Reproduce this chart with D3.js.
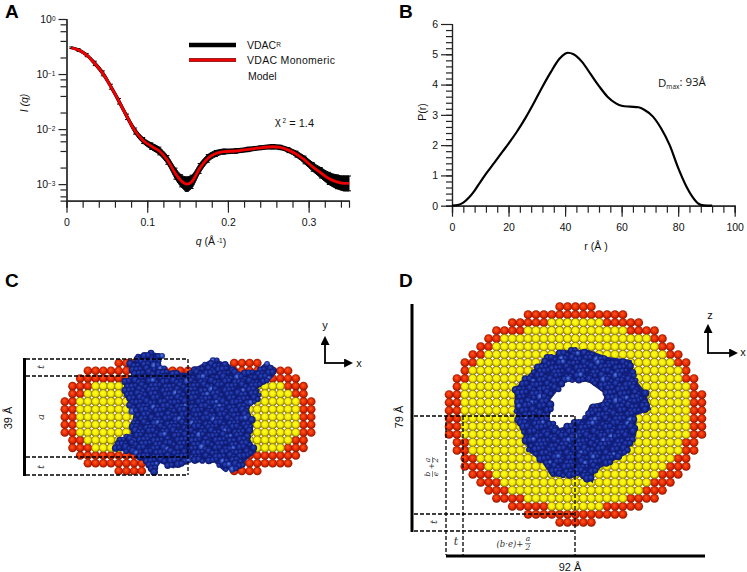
<!DOCTYPE html>
<html>
<head>
<meta charset="utf-8">
<script src="https://cdn.jsdelivr.net/npm/d3@7"></script>
<style>
html, body { margin: 0; padding: 0; background: #fff; }
svg { display: block; }
text { font-family: "Liberation Sans", Arial, sans-serif; fill: #111; }
</style>
</head>
<body>
<svg class="fig" width="747" height="572"></svg>
<script>
// panel A
var scatterQ = [0.006, 0.015, 0.025, 0.035, 0.045, 0.055, 0.065, 0.075, 0.085, 0.095, 0.105, 0.115, 0.125, 0.135, 0.142, 0.149, 0.155, 0.165, 0.175, 0.185, 0.195, 0.21, 0.225, 0.24, 0.255, 0.265, 0.275, 0.285, 0.295, 0.305, 0.315, 0.325, 0.335, 0.345, 0.35];
var scatterI = [0.30, 0.273, 0.221, 0.156, 0.103, 0.059, 0.032, 0.0167, 0.0092, 0.0062, 0.0049, 0.0040, 0.00275, 0.00155, 0.00115, 0.00100, 0.0011, 0.00193, 0.00293, 0.0036, 0.0039, 0.0040, 0.00427, 0.00457, 0.00478, 0.00464, 0.00415, 0.0035, 0.00275, 0.00206, 0.00161, 0.00127, 0.0011, 0.00103, 0.00103];
// half height of the black error band, in decades
var scatterErr = [0.015, 0.025, 0.03, 0.04, 0.045, 0.045, 0.05, 0.05, 0.055, 0.055, 0.06, 0.07, 0.08, 0.1, 0.11, 0.13, 0.12, 0.09, 0.07, 0.055, 0.045, 0.04, 0.04, 0.035, 0.04, 0.04, 0.045, 0.055, 0.07, 0.08, 0.095, 0.11, 0.125, 0.135, 0.135];

// panel B
var distR = [0, 2, 4, 6, 8, 10, 12, 15, 18, 20, 23, 26, 29, 32, 35, 38, 40, 41, 43, 46, 49, 52, 55, 58, 60, 63, 66, 68, 71, 74, 77, 80, 83, 85, 87, 89, 92];
var distP = [0, 0.02, 0.1, 0.27, 0.5, 0.78, 1.05, 1.42, 1.8, 2.05, 2.45, 2.9, 3.4, 3.93, 4.42, 4.85, 5.02, 5.05, 5.0, 4.75, 4.35, 3.95, 3.6, 3.38, 3.3, 3.27, 3.25, 3.17, 2.95, 2.55, 2.0, 1.25, 0.62, 0.3, 0.08, 0.01, 0];

var xTicksA = [0, 0.1, 0.2, 0.3];
var yTicksA = [1, 0.1, 0.01, 0.001];
var yExpA = ["0", "\u22121", "\u22122", "\u22123"];

// beads per row, half width counted from the centre column
var sideRed = [9, 13, 14, 15, 15, 16, 16, 16, 16, 16, 15, 15, 14, 13, 9];
var sideGap = [6, 0, 0, 0, 0, 0, 0, 0, 0, 0, 0, 0, 0, 6, 6];
var sideYellow = [-1, -1, -1, 12, 13, 14, 14, 14, 14, 14, 13, 12, -1, -1, -1];
var topRed = [2, 6, 8, 10, 11, 12, 13, 14, 14, 15, 15, 16, 16, 16, 16, 16, 16, 15, 15, 14, 14, 13, 12, 11, 10, 8, 6, 2];
var topYellow = [-1, -1, 3, 6, 9, 10, 11, 12, 13, 13, 14, 14, 14, 14, 14, 14, 14, 13, 13, 12, 11, 10, 9, 8, 6, 3, -1, -1];

// protein outlines in bead units (col, row from centre)
var sideProtein = [[-6.7,-8.1],[-4.5,-8.4],[-3.2,-8.1],[-3.6,-6.8],[-2.3,-5.9],[-0.2,-5.7],[1.6,-6.8],[3.3,-7.6],[5.5,-6.8],[6.3,-5.7],[8.9,-6.1],[10.2,-7.2],[11.3,-6.3],[11.1,-5.2],[9.1,-3.7],[9.4,-2.4],[7.8,-1.1],[8.5,0.6],[7.8,2.3],[8.9,4.5],[7.6,5.6],[6.8,6.7],[4.6,7.0],[3.3,5.8],[2,5.8],[-0.2,5.8],[-1.9,6.7],[-3.6,6.0],[-4.5,7.3],[-5.8,5.8],[-7.1,4.7],[-9.5,4.3],[-9.3,3.0],[-7.5,2.3],[-7.1,-0.3],[-8.2,-2.9],[-8.3,-4.6],[-7.3,-5.2],[-7.7,-6.8],[-6.9,-7.4]];
var topProtein = [[-7.7,-3.3],[-6,-4.9],[-3.9,-7],[-0.9,-8.1],[1.6,-8.1],[4.1,-7.2],[7.1,-6.8],[7.5,-4.5],[8.8,-2.9],[9.6,-0.6],[7.7,0.1],[7.7,2.6],[6.2,5.1],[2.4,7.1],[2.2,8.6],[1.2,7.8],[-0.9,7.6],[-3,7.8],[-4.3,5.9],[-6,4.6],[-6.6,2.6],[-7.7,-0.4]];
var topHole = [[-3.2,-1.8],[-1.4,-4.1],[1.6,-4.1],[3.7,-2.6],[3.5,-1.6],[1.8,-1.2],[1.2,0.3],[-0.7,1.3],[-2,1.7],[-3.5,0.5],[-2.8,-0.8]];

var svg = d3.select(".fig");
var defs = svg.append("defs");

function ballGradient(id, hi, mid, edge) {
  var g = defs.append("radialGradient").attr("id", id)
    .attr("cx", 0.5).attr("cy", 0.5).attr("r", 0.52).attr("fx", 0.42).attr("fy", 0.36);
  g.append("stop").attr("offset", "0%").attr("stop-color", hi);
  g.append("stop").attr("offset", "60%").attr("stop-color", mid);
  g.append("stop").attr("offset", "100%").attr("stop-color", edge);
}
ballGradient("ballRed", "#ff5a20", "#e82800", "#7c1400");
ballGradient("ballYellow", "#ffff30", "#f6ec00", "#7d7400");
ballGradient("ballBlue", "#2c48bc", "#152690", "#0b1660");
ballGradient("ballBlueHi", "#6080e8", "#2440b0", "#101f74");

defs.append("marker").attr("id", "arrowHead").attr("viewBox", "0 0 10 10")
  .attr("refX", 1).attr("refY", 5).attr("markerWidth", 9).attr("markerHeight", 9)
  .attr("markerUnits", "userSpaceOnUse").attr("orient", "auto")
  .append("path").attr("d", "M0,0L10,5L0,10Z").attr("fill", "#000");

function panelLetter(s, x, y) {
  svg.append("text").attr("x", x).attr("y", y).text(s)
    .style("font-size", "19px").style("font-weight", "bold").style("fill", "#000");
}
panelLetter("A", 5, 18);
panelLetter("B", 399, 18);
panelLetter("C", 5, 287);
panelLetter("D", 399, 287);

function styleAxis(g) {
  g.selectAll("path, line").attr("stroke", "#222").attr("stroke-width", 1.2);
  g.selectAll("text").style("font-size", "10.5px").style("fill", "#111");
}

// ---- A
var xA = d3.scaleLinear().domain([0, 0.35]).range([66.5, 349]);
var yA = d3.scaleLog().domain([0.0005, 1]).range([200.7, 19]);

var gA = svg.append("g");
var minorX = d3.range(0, 18).map(function(i) { return i * 0.02; });
var minorY = [];
yTicksA.forEach(function(d) {
  [0.8, 0.6, 0.4, 0.2].forEach(function(m) { if (d * m > 0.0005) minorY.push(d * m); });
});

gA.append("g").attr("transform", "translate(0,200.7)")
  .call(d3.axisBottom(xA).tickValues(minorX).tickSize(7).tickFormat(""))
  .call(styleAxis);
gA.append("g").attr("transform", "translate(0,200.7)")
  .call(d3.axisBottom(xA).tickValues(xTicksA).tickSize(12).tickSizeOuter(0).tickPadding(6).tickFormat(function(d) { return d === 0 ? "0" : d3.format(".1f")(d); }))
  .call(styleAxis);
gA.append("g").attr("transform", "translate(66.5,0)")
  .call(d3.axisLeft(yA).tickValues(minorY).tickSize(6).tickFormat(""))
  .call(styleAxis);
var yAxisA = gA.append("g").attr("transform", "translate(66.5,0)")
  .call(d3.axisLeft(yA).tickValues(yTicksA).tickSize(8).tickSizeOuter(0).tickPadding(7).tickFormat(""))
  .call(styleAxis);
yAxisA.selectAll(".tick").append("text")
  .attr("x", -11).attr("dy", "0.35em").attr("text-anchor", "end")
  .style("font-size", "10.5px")
  .each(function(d, i) {
    var t = d3.select(this);
    t.append("tspan").text("10");
    t.append("tspan").attr("dy", "-0.35em").style("font-size", "6.5px").text(yExpA[i]);
  });

var pointsA = scatterQ.map(function(q, i) {
  return { q: q, i: scatterI[i], hi: scatterI[i] * Math.pow(10, scatterErr[i]), lo: scatterI[i] / Math.pow(10, scatterErr[i]) };
});

gA.append("path").datum(pointsA)
  .attr("fill", "#000").attr("stroke", "#000").attr("stroke-width", 1)
  .attr("d", d3.area().x(function(d) { return xA(d.q); }).y0(function(d) { return yA(d.lo); }).y1(function(d) { return yA(d.hi); }).curve(d3.curveMonotoneX));

gA.selectAll(".errbar").data(pointsA).enter().append("path")
  .attr("class", "errbar").attr("stroke", "#000").attr("stroke-width", 1).attr("fill", "none")
  .attr("d", function(d) {
    var x = xA(d.q);
    return "M" + (x - 2) + "," + yA(d.hi) + "H" + (x + 2) + "M" + (x - 2) + "," + yA(d.lo) + "H" + (x + 2);
  });

gA.append("path").datum(pointsA)
  .attr("fill", "none").attr("stroke", "#f00000").attr("stroke-width", 2.8)
  .attr("d", d3.line().x(function(d) { return xA(d.q); }).y(function(d) { return yA(d.i); }).curve(d3.curveMonotoneX));

gA.append("line").attr("x1", 189).attr("x2", 236).attr("y1", 45).attr("y2", 45).attr("stroke", "#000").attr("stroke-width", 4.5);
gA.append("line").attr("x1", 189).attr("x2", 236).attr("y1", 60).attr("y2", 60).attr("stroke", "#000").attr("stroke-width", 3.6);
gA.append("line").attr("x1", 189).attr("x2", 236).attr("y1", 60).attr("y2", 60).attr("stroke", "#f00000").attr("stroke-width", 2.8);

var legendText = gA.append("text").attr("x", 247).attr("y", 49).style("font-size", "10.5px");
legendText.append("tspan").text("VDAC");
legendText.append("tspan").attr("dy", "-0.35em").style("font-size", "6.5px").text("R");
gA.append("text").attr("x", 247).attr("y", 64).style("font-size", "10.5px").style("letter-spacing", "0.3px").text("VDAC Monomeric");
gA.append("text").attr("x", 248).attr("y", 80).style("font-size", "10.5px").text("Model");

var chi = gA.append("text").attr("x", 275).attr("y", 125).style("font-size", "11px");
chi.append("tspan").text("\u03C7");
chi.append("tspan").attr("dy", "-0.35em").style("font-size", "6.5px").text(" 2");
chi.append("tspan").attr("dy", "0.35em").text(" = 1.4");

var yLabA = gA.append("text").attr("transform", "translate(28,103) rotate(-90)").attr("text-anchor", "middle").style("font-size", "10.5px");
yLabA.append("tspan").style("font-style", "italic").text("I (q)");

var xLabA = gA.append("text").attr("x", 211).attr("y", 245).attr("text-anchor", "middle").style("font-size", "10.5px");
xLabA.append("tspan").style("font-style", "italic").text("q");
xLabA.append("tspan").text(" (\u00C5");
xLabA.append("tspan").attr("dy", "-0.35em").style("font-size", "6.5px").text(" -1");
xLabA.append("tspan").attr("dy", "0.35em").text(")");

// ---- B
var xB = d3.scaleLinear().domain([0, 100]).range([452, 734.7]);
var yB = d3.scaleLinear().domain([0, 6]).range([205.7, 24]);
var gB = svg.append("g");

gB.append("g").attr("transform", "translate(0,205.7)")
  .call(d3.axisBottom(xB).tickValues(d3.range(0, 101, 4)).tickSize(7).tickFormat(""))
  .call(styleAxis);
gB.append("g").attr("transform", "translate(0,205.7)")
  .call(d3.axisBottom(xB).tickValues(d3.range(0, 101, 20)).tickSize(11).tickSizeOuter(0).tickPadding(7))
  .call(styleAxis);
gB.append("g").attr("transform", "translate(452,0)")
  .call(d3.axisLeft(yB).tickValues(d3.range(0, 30).map(function(i) { return i * 0.2; })).tickSize(6).tickFormat(""))
  .call(styleAxis);
gB.append("g").attr("transform", "translate(452,0)")
  .call(d3.axisLeft(yB).tickValues(d3.range(0, 7)).tickSize(11).tickSizeOuter(0).tickPadding(3).tickFormat(d3.format("d")))
  .call(styleAxis);

gB.append("path").datum(distR)
  .attr("fill", "none").attr("stroke", "#000").attr("stroke-width", 2.2)
  .attr("d", d3.line().x(function(d) { return xB(d); }).y(function(d, i) { return yB(distP[i]); }).curve(d3.curveMonotoneX));

gB.append("text").attr("transform", "translate(426,112) rotate(-90)").attr("text-anchor", "middle").style("font-size", "10.5px").text("P(r)");
gB.append("text").attr("x", 596).attr("y", 250).attr("text-anchor", "middle").style("font-size", "10.5px").text("r (\u00C5 )");

var dmax = gB.append("text").attr("x", 658).attr("y", 87).style("font-family", "'Open Sans', sans-serif").style("font-size", "11.5px");
dmax.append("tspan").text("D");
dmax.append("tspan").attr("dy", "0.3em").style("font-size", "6.5px").text("max");
dmax.append("tspan").attr("dy", "-0.3em").text(": 93\u00C5");

// ---- bead models
function rowBeads(halfWidths, gaps) {
  var out = [];
  halfWidths.forEach(function(n, row) {
    if (n < 0) return;
    d3.range(-n, n + 1).forEach(function(col) {
      if (gaps && Math.abs(col) < gaps[row]) return;
      out.push({ col: col, row: row });
    });
  });
  return out;
}

function drawBeads(g, beads, x, y, r, fill) {
  g.selectAll(null).data(beads).enter().append("circle")
    .attr("cx", function(d) { return x(d.col); })
    .attr("cy", function(d) { return y(d.row); })
    .attr("r", r)
    .attr("fill", "url(#" + fill + ")");
}

// surface texture: a packed lattice with a golden-ratio wobble, kept inside the outline
function drawProtein(g, outline, hole, x, y) {
  var path = d3.line().x(function(d) { return x(d[0]); }).y(function(d) { return y(d[1]); }).curve(d3.curveLinearClosed);
  g.append("path").attr("d", path(outline) + (hole ? path(hole) : "")).attr("fill", "#122286").attr("fill-rule", "evenodd");

  var ext = d3.extent(outline, function(d) { return d[0]; });
  var extY = d3.extent(outline, function(d) { return d[1]; });
  var step = 0.62, k = 0, beads = [];
  for (var v = extY[0]; v <= extY[1]; v += step * 0.87) {
    k++;
    for (var u = ext[0] + (k % 2) * step / 2; u <= ext[1]; u += step) {
      var n = beads.length + 1;
      var a = (n * 0.618034) % 1, b = (n * 0.754878) % 1;
      var pu = u + (a - 0.5) * 0.35, pv = v + (b - 0.5) * 0.35;
      if (!d3.polygonContains(outline, [pu, pv])) continue;
      if (hole && d3.polygonContains(hole, [pu, pv])) continue;
      beads.push({ u: pu, v: pv, r: 2.2 + 1.9 * a, hi: ((n * 0.569840) % 1) > 0.94 });
    }
  }
  g.selectAll(null).data(beads).enter().append("circle")
    .attr("cx", function(d) { return x(d.u); })
    .attr("cy", function(d) { return y(d.v); })
    .attr("r", function(d) { return d.r; })
    .attr("fill", function(d) { return d.hi ? "url(#ballBlueHi)" : "url(#ballBlue)"; });
}

function dashed(g, x1, y1, x2, y2) {
  g.append("line").attr("x1", x1).attr("y1", y1).attr("x2", x2).attr("y2", y2)
    .attr("stroke", "#000").attr("stroke-width", 1.3).attr("stroke-dasharray", "4,2");
}
function thick(g, x1, y1, x2, y2) {
  g.append("line").attr("x1", x1).attr("y1", y1).attr("x2", x2).attr("y2", y2)
    .attr("stroke", "#000").attr("stroke-width", 3);
}
function gizmo(g, cx, cy, up, right, upLabel, upX, upY, rightX, rightY) {
  g.append("path").attr("d", "M" + cx + "," + cy + "V" + (up + 8)).attr("fill", "none").attr("stroke", "#000").attr("stroke-width", 1.8).attr("marker-end", "url(#arrowHead)");
  g.append("path").attr("d", "M" + (cx - 1) + "," + cy + "H" + (right - 8)).attr("fill", "none").attr("stroke", "#000").attr("stroke-width", 1.8).attr("marker-end", "url(#arrowHead)");
  g.append("text").attr("x", upX).attr("y", upY).attr("text-anchor", "middle").style("font-size", "11px").text(upLabel);
  g.append("text").attr("x", rightX).attr("y", rightY).attr("text-anchor", "middle").style("font-size", "11px").text("x");
}
function mathText(g, x, y, s, size, rotate) {
  return g.append("text")
    .attr("transform", "translate(" + x + "," + y + ")" + (rotate ? " rotate(-90)" : ""))
    .attr("text-anchor", "middle")
    .style("font-family", "'DejaVu Serif', serif").style("font-style", "italic")
    .style("font-size", size + "px").style("fill", "#333").text(s);
}

// ---- C
var gC = svg.append("g");
var cX = d3.scaleLinear().domain([0, 1]).range([188, 195.7]);
var cY = d3.scaleLinear().domain([0, 14]).range([363, 471]);
var cYc = d3.scaleLinear().domain([0, 1]).range([417, 424.7]);

drawBeads(gC, rowBeads(sideRed, sideGap), cX, cY, 4.3, "ballRed");
drawBeads(gC, rowBeads(sideYellow), cX, cY, 4.3, "ballYellow");
drawProtein(gC, sideProtein, null, cX, cYc);

thick(gC, 24.5, 358, 24.5, 476);
[359, 376, 457, 475].forEach(function(y) { dashed(gC, 26, y, 188, y); });
dashed(gC, 188, 359, 188, 475);
gC.append("text").attr("transform", "translate(12,418) rotate(-90)").attr("text-anchor", "middle").style("font-size", "11px").text("39 \u00C5");
mathText(gC, 44, 367, "t", 10, true);
mathText(gC, 44, 417, "a", 10, true);
mathText(gC, 44, 467, "t", 10, true);
gizmo(gC, 325, 363, 336, 353, "y", 325, 329, 359, 367);

// ---- D
var gD = svg.append("g");
var dX = d3.scaleLinear().domain([0, 1]).range([575.5, 583.4]);
var dY = d3.scaleLinear().domain([0, 27]).range([306.7, 522.3]);
var dYc = d3.scaleLinear().domain([0, 1]).range([414.5, 422.5]);

drawBeads(gD, rowBeads(topRed), dX, dY, 4.4, "ballRed");
drawBeads(gD, rowBeads(topYellow), dX, dY, 4.4, "ballYellow");
gD.append("path").datum(topHole).attr("fill", "#fff")
  .attr("d", d3.line().x(function(d) { return dX(d[0]); }).y(function(d) { return dYc(d[1]); }).curve(d3.curveLinearClosed));
drawProtein(gD, topProtein, topHole, dX, dYc);

thick(gD, 412, 304, 412, 532);
thick(gD, 446, 556, 705, 556);
[416, 514, 531].forEach(function(y) { dashed(gD, 414, y, 575, y); });
[446, 463, 575].forEach(function(x) { dashed(gD, x, 416, x, 555); });

gD.append("text").attr("transform", "translate(403,417) rotate(-90)").attr("text-anchor", "middle").style("font-size", "11px").text("79 \u00C5");
gD.append("text").attr("x", 570).attr("y", 571).attr("text-anchor", "middle").style("font-size", "11px").text("92 \u00C5");
mathText(gD, 437, 522, "t", 10, true);
mathText(gD, 456, 545, "t", 11, false);

// (b-e)+a/2 under the box
mathText(gD, 510, 547, "(b\u00B7e)+", 8.5, false);
mathText(gD, 528, 541, "a", 7.5, false);
gD.append("line").attr("x1", 525).attr("x2", 531).attr("y1", 543.5).attr("y2", 543.5).attr("stroke", "#444").attr("stroke-width", 0.6);
mathText(gD, 528, 550, "2", 7.5, false);

// b/e + a/2 on its side
mathText(gD, 430, 474, "b", 7.5, true);
mathText(gD, 438, 474, "e", 7.5, true);
gD.append("line").attr("x1", 432.5).attr("x2", 432.5).attr("y1", 471).attr("y2", 477).attr("stroke", "#444").attr("stroke-width", 0.6);
mathText(gD, 434, 466, "+", 7.5, true);
mathText(gD, 430, 460, "a", 7.5, true);
mathText(gD, 438, 460, "2", 7.5, true);
gD.append("line").attr("x1", 432.5).attr("x2", 432.5).attr("y1", 457).attr("y2", 463).attr("stroke", "#444").attr("stroke-width", 0.6);

gizmo(gD, 708, 353, 324, 738, "z", 710, 319, 743, 356);
</script>
</body>
</html>
